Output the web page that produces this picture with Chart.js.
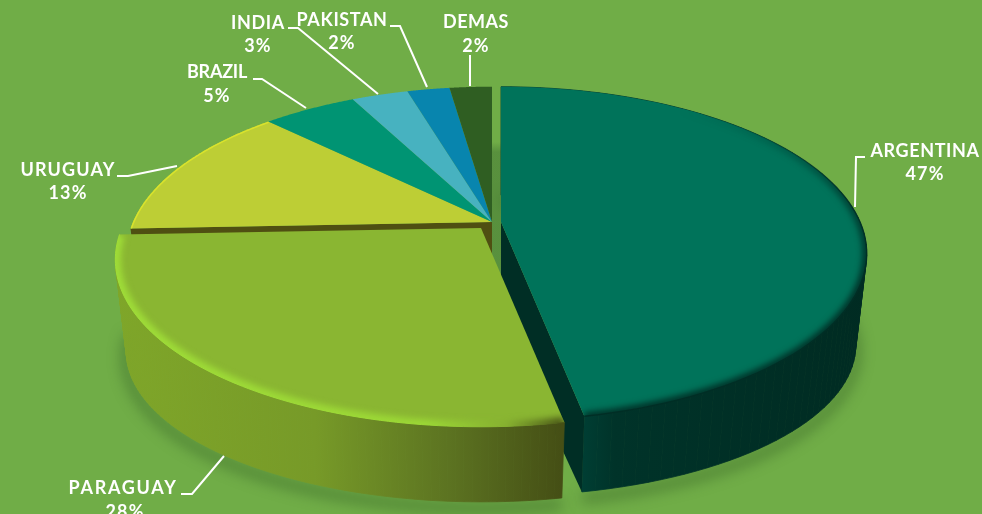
<!DOCTYPE html>
<html><head><meta charset="utf-8">
<script src="https://cdn.jsdelivr.net/npm/chart.js@4"></script>
<style>html,body{margin:0;padding:0;background:#70AD47}canvas{display:block}</style>
</head><body><canvas id="c" width="982" height="514"></canvas>
<script>
const categories=["ARGENTINA","PARAGUAY","URUGUAY","BRAZIL","INDIA","PAKISTAN","DEMAS"];
const shares=[47,27.4,13.15,5,3,2.25,2.25];
const percentLabels=["47%","28%","13%","5%","3%","2%","2%"];
const topColors=["#00735A","#8AB632","#BDCE35","#009473","#47B2C0","#0885AE","#2F5E22"];
const cutColors=["#002E25",null,"#4F4F12",null,null,null,null];

// --- view geometry (perspective of the tilted disc) ---
const CX=492,CY=222,R=359,RK=161,P=0.19,DEPTH=95,BOTTOM_X=0.97,BOTTOM_Y=0.9;
const sliceShift=[[9,0],[-11,6],[0,0],[0,0],[0,0],[0,0],[0,0]];
const labelAt=[[925,151],[123,488],[68,170],[217,72],[258,23],[342,20],[476,22]];
const labelWidth=[109,109,95,60,54,91,66];
const pctAt=[[925,174],[125,512],[68,193],[217,96],[258,46],[342,43],[476,46]];
const leaders=[[[865,157],[856,157],[855,207]],[[181,494],[192,494],[224,456]],[[117,176],[128,176],[177,166]],
 [[253,79],[262,79],[306,108]],[[288,28],[298,28],[378,94]],[[390,26],[400,26],[427,87]],[[470,55],[470,86]]];

function pt(a,i,fx,fy,dy){const u=Math.cos(a),v=Math.sin(a),s=1/(1-P*v);
  return [CX+sliceShift[i][0]+R*fx*u*s,CY+sliceShift[i][1]+dy+RK*fy*v*s];}
function apex(i,dy){return [CX+sliceShift[i][0],CY+sliceShift[i][1]+dy];}
function arcPts(el,i,fx,fy,dy){const n=90,o=[];for(let k=0;k<=n;k++){o.push(pt(el.startAngle+(el.endAngle-el.startAngle)*k/n,i,fx,fy,dy));}return o;}
function poly(ctx,pts){ctx.beginPath();pts.forEach((p,k)=>k?ctx.lineTo(p[0],p[1]):ctx.moveTo(p[0],p[1]));}
function topArc(el,i){return arcPts(el,i,1,1,0);}
function botArc(el,i){return arcPts(el,i,BOTTOM_X,BOTTOM_Y,DEPTH);}
function topPts(el,i){return [apex(i,0)].concat(topArc(el,i));}
function drawWall(ctx,el,i){
  const t=topArc(el,i),b=botArc(el,i),f=wallFill(ctx,i);
  ctx.save();ctx.fillStyle=f;ctx.strokeStyle=f;ctx.lineWidth=0.8;
  for(let k=0;k<t.length-1;k++){poly(ctx,[t[k],t[k+1],b[k+1],b[k]]);ctx.closePath();ctx.fill();ctx.stroke();}
  ctx.restore();
}

function wallFill(ctx,i){
  if(i===0){const g=ctx.createLinearGradient(580,0,870,0);
    g.addColorStop(0,"#003F34");g.addColorStop(.12,"#003329");g.addColorStop(1,"#002B22");return g;}
  if(i===1){const g=ctx.createLinearGradient(115,0,560,0);
    g.addColorStop(0,"#7FA629");g.addColorStop(.45,"#779A28");g.addColorStop(.75,"#5C7321");g.addColorStop(1,"#454F15");return g;}
  return "#4F4F12";
}
function rim(ctx,el,i){
  const a=topArc(el,i);
  if(i===0){
    const g=ctx.createLinearGradient(0,110,0,300);
    g.addColorStop(0,"rgba(0,50,40,0)");g.addColorStop(.45,"rgba(0,45,36,.7)");g.addColorStop(.8,"#002E25");g.addColorStop(1,"#002E25");
    ctx.save();poly(ctx,topPts(el,i));ctx.closePath();ctx.clip();
    ctx.filter="blur(3px)";ctx.strokeStyle=g;ctx.lineWidth=8;poly(ctx,a);ctx.stroke();ctx.restore();
    ctx.save();ctx.strokeStyle=g;ctx.lineWidth=1.5;poly(ctx,a);ctx.stroke();ctx.restore();
  }else if(i===1){
    const g=ctx.createLinearGradient(115,0,560,0);
    g.addColorStop(0,"#9FDD38");g.addColorStop(.7,"#9CD836");g.addColorStop(.88,"#86B030");g.addColorStop(1,"#4C5A18");
    ctx.save();poly(ctx,topPts(el,i));ctx.closePath();ctx.clip();
    ctx.filter="blur(3px)";ctx.strokeStyle=g;ctx.lineWidth=11;poly(ctx,a);ctx.stroke();ctx.restore();
    ctx.save();ctx.strokeStyle=g;ctx.lineWidth=1;poly(ctx,a);ctx.stroke();ctx.restore();
  }else if(i===2){
    ctx.save();poly(ctx,topPts(el,i));ctx.closePath();ctx.clip();
    ctx.strokeStyle="#D9E32C";ctx.lineWidth=3;poly(ctx,a);ctx.stroke();ctx.restore();
  }
}
const pie3d={id:"pie3d",
  beforeDraw(c){const x=c.ctx;x.save();x.fillStyle="#70AD47";x.fillRect(0,0,c.width,c.height);x.restore();},
  beforeDatasetsDraw(c){
    const ctx=c.ctx,els=c.getDatasetMeta(0).data;
    // soft ground shadow
    ctx.save();ctx.filter="blur(7px)";ctx.strokeStyle="rgba(40,80,30,.45)";ctx.lineWidth=10;
    [0,1].forEach(i=>{ctx.save();ctx.translate(0,6);poly(ctx,botArc(els[i],i));ctx.stroke();ctx.restore();});
    ctx.restore();
    // tone in the gap between the pulled-out slices
    const g0=ctx.createLinearGradient(0,CY-80,0,CY-70);g0.addColorStop(0,"rgba(60,110,50,0)");g0.addColorStop(1,"rgba(60,110,50,.45)");
    ctx.fillStyle=g0;ctx.fillRect(apex(2,0)[0],CY-80,sliceShift[0][0],150);
    const order=[2,3,4,5,6,0,1];
    order.forEach(i=>{const el=els[i];
      if(i===0||i===1){drawWall(ctx,el,i);}
      if(cutColors[i]){
        const ang=i===0?el.endAngle:el.startAngle;
        ctx.fillStyle=cutColors[i];
        poly(ctx,[apex(i,0),pt(ang,i,1,1,0),pt(ang,i,BOTTOM_X,BOTTOM_Y,DEPTH),apex(i,DEPTH)]);ctx.closePath();ctx.fill();
      }
    });
    order.forEach(i=>{const el=els[i];
      ctx.fillStyle=topColors[i];poly(ctx,topPts(el,i));ctx.closePath();ctx.fill();
      rim(ctx,el,i);
    });
    return false;
  },
  afterDraw(c){
    const ctx=c.ctx;ctx.save();
    ctx.strokeStyle="#FFFFFF";ctx.lineWidth=2;ctx.lineJoin="miter";
    leaders.forEach(l=>{poly(ctx,l);ctx.stroke();});
    ctx.fillStyle="#FFFFFF";ctx.textAlign="center";ctx.textBaseline="middle";
    ctx.font="700 18px Lato";
    categories.forEach((n,i)=>{
      ctx.letterSpacing="0px";
      const sp=(labelWidth[i]-ctx.measureText(n).width)/n.length;
      ctx.letterSpacing=sp.toFixed(2)+"px";
      ctx.fillText(n,labelAt[i][0],labelAt[i][1]);
      ctx.letterSpacing="1.2px";
      ctx.fillText(percentLabels[i],pctAt[i][0],pctAt[i][1]);
    });
    ctx.restore();
  }
};
new Chart(document.getElementById("c"),{type:"pie",
  data:{labels:categories,datasets:[{data:shares,backgroundColor:topColors,borderWidth:0}]},
  options:{responsive:false,animation:false,plugins:{legend:{display:false},tooltip:{enabled:false}}},
  plugins:[pie3d]});
</script></body></html>
